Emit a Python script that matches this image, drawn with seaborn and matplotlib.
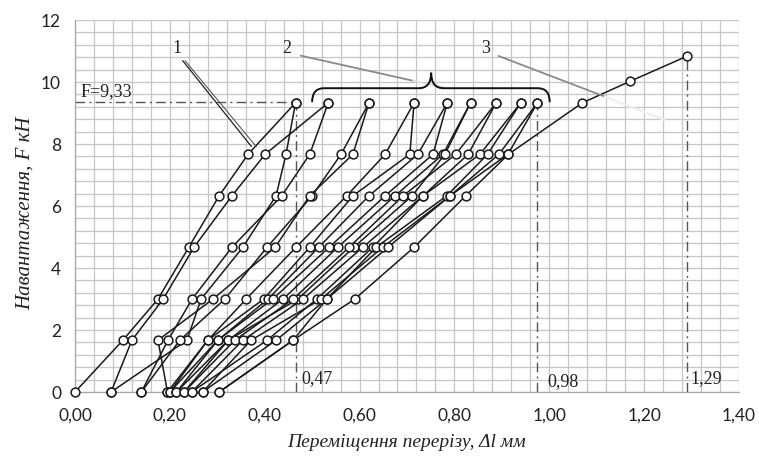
import matplotlib
matplotlib.use('Agg')
import matplotlib.pyplot as plt
from matplotlib.path import Path
from matplotlib.patches import PathPatch
from matplotlib.ticker import MultipleLocator, FuncFormatter
import pandas as pd
import seaborn as sns

# load levels, kN
load_up = [0, 1.67, 3.0, 4.67, 6.33, 7.67, 9.33]
load_down = [9.33, 7.67, 6.33, 4.67, 3.0, 1.67, 0]
load_fail = [0, 1.67, 3.0, 4.67, 6.33, 7.67, 9.33, 10.02, 10.83]

# displacement on loading branches, mm (cycles 1..9)
loading_x = [
    [0.000, 0.101, 0.175, 0.240, 0.304, 0.365, 0.465],
    [0.076, 0.120, 0.186, 0.251, 0.331, 0.401, 0.534],
    [0.140, 0.221, 0.316, 0.405, 0.500, 0.561, 0.620],
    [0.195, 0.280, 0.361, 0.466, 0.573, 0.654, 0.715],
    [0.200, 0.301, 0.407, 0.514, 0.620, 0.723, 0.785],
    [0.214, 0.323, 0.439, 0.554, 0.675, 0.776, 0.834],
    [0.230, 0.337, 0.460, 0.578, 0.692, 0.803, 0.888],
    [0.246, 0.354, 0.481, 0.607, 0.734, 0.854, 0.940],
    [0.269, 0.371, 0.519, 0.649, 0.791, 0.894, 0.975],
]
# displacement on unloading branches, mm
unloading_x = [
    [0.465, 0.445, 0.424, 0.354, 0.266, 0.236, 0.076],
    [0.534, 0.495, 0.436, 0.331, 0.247, 0.196, 0.140],
    [0.620, 0.586, 0.495, 0.422, 0.291, 0.175, 0.195],
    [0.715, 0.706, 0.586, 0.495, 0.398, 0.280, 0.200],
    [0.785, 0.755, 0.654, 0.536, 0.417, 0.301, 0.214],
    [0.834, 0.780, 0.711, 0.588, 0.470, 0.323, 0.230],
    [0.888, 0.829, 0.734, 0.628, 0.510, 0.405, 0.246],
    [0.940, 0.870, 0.784, 0.635, 0.531, 0.424, 0.269],
    [0.975, 0.913, 0.791, 0.660, 0.531, 0.460, 0.304],
]
# last cycle up to failure
fail_x = [0.304, 0.460, 0.590, 0.715, 0.824, 0.914, 1.070, 1.170, 1.290]

x_ticks = [0.0, 0.2, 0.4, 0.6, 0.8, 1.0, 1.2, 1.4]
y_ticks = [0, 2, 4, 6, 8, 10, 12]

rows = []
b = 0
for i in range(len(loading_x)):
    for x, f in zip(loading_x[i], load_up):
        rows.append((b, x, f))
    b += 1
    for x, f in zip(unloading_x[i], load_down):
        rows.append((b, x, f))
    b += 1
for x, f in zip(fail_x, load_fail):
    rows.append((b, x, f))
df = pd.DataFrame(rows, columns=['branch', 'x', 'F'])

sns.set_style('white')
plt.rcParams['font.family'] = ['Lato', 'DejaVu Sans']
serif = ['Liberation Serif', 'DejaVu Serif']

fig = plt.figure(figsize=(7.59, 4.58), dpi=100)
ax = fig.add_axes([0.0988, 0.1441, 0.8748, 0.8122])

sns.lineplot(data=df, x='x', y='F', units='branch', estimator=None, sort=False,
             color='#1a1a1a', lw=1.1, ax=ax, zorder=3)
sns.scatterplot(data=df, x='x', y='F', s=40, color='white', edgecolor='#1a1a1a',
                linewidth=1.1, ax=ax, zorder=4, clip_on=False)

ax.set_xlim(0, 1.4)
ax.set_ylim(0, 12)
ax.xaxis.set_major_locator(MultipleLocator(0.2))
ax.xaxis.set_minor_locator(MultipleLocator(0.04))
ax.yaxis.set_major_locator(MultipleLocator(2))
ax.yaxis.set_minor_locator(MultipleLocator(0.4))
ax.set_xticks(x_ticks)
ax.set_yticks(y_ticks)
ax.xaxis.set_major_formatter(FuncFormatter(lambda v, p: f'{v:.2f}'.replace('.', ',')))
ax.grid(True, which='both', color='#c6c6c6', lw=0.9)
ax.set_axisbelow(True)
for s in ['top', 'right']:
    ax.spines[s].set_visible(False)
for s in ['left', 'bottom']:
    ax.spines[s].set_color('#a6a6a6')
    ax.spines[s].set_linewidth(0.9)
ax.tick_params(axis='both', which='major', direction='out', length=5, color='#a6a6a6',
               labelsize=12.5, labelcolor='#222222')
ax.tick_params(axis='x', pad=6)
ax.tick_params(axis='y', pad=5)
ax.tick_params(which='minor', length=0)

ax.set_xlabel('Переміщення перерізу, Δl мм', family=serif, style='italic',
              fontsize=14, labelpad=8, color='#222222')
ax.set_ylabel('')
fig.text(0.033, 0.535, 'Навантаження, F кН', family=serif, style='italic',
         fontsize=15, rotation=90, ha='center', va='center', color='#222222')

dash = (0, (7, 3, 1.5, 3))
ax.plot([0, 0.465], [9.37, 9.37], color='#555555', lw=1.0, ls=dash, zorder=2)
ax.plot([0.465, 0.465], [0, 9.33], color='#555555', lw=1.0, ls=dash, zorder=2)
ax.plot([0.975, 0.975], [0, 9.33], color='#555555', lw=1.0, ls=dash, zorder=2)
ax.plot([1.29, 1.29], [0, 10.83], color='#555555', lw=1.0, ls=dash, zorder=2)

ax.text(0.012, 9.55, 'F=9,33', family=serif, fontsize=13, color='#222222')
ax.text(0.478, 0.3, '0,47', family=serif, fontsize=13, color='#222222')
ax.text(0.995, 0.2, '0,98', family=serif, fontsize=13, color='#222222')
ax.text(1.297, 0.3, '1,29', family=serif, fontsize=13, color='#222222')

ax.text(0.205, 10.95, '1', family=serif, fontsize=13, color='#222222')
ax.text(0.438, 10.95, '2', family=serif, fontsize=13, color='#222222')
ax.text(0.857, 10.95, '3', family=serif, fontsize=13, color='#222222')

ax.plot([0.227, 0.372], [10.69, 7.92], color='#222222', lw=0.9, zorder=5)
ax.plot([0.232, 0.382], [10.69, 7.92], color='#444444', lw=0.7, zorder=5)
ax.plot([0.476, 0.713], [10.85, 10.04], color='#8a8a8a', lw=1.3, zorder=5)
ax.plot([0.713, 0.78], [10.04, 9.82], color='#dddddd', lw=1.3, zorder=5)
ax.plot([0.893, 1.117], [10.84, 9.53], color='#8a8a8a', lw=1.3, zorder=5)
ax.plot([1.117, 1.244], [9.53, 8.77], color='#eeeeee', lw=1.5, zorder=5)

# curly brace over group 2
verts = [(0.500, 9.35), (0.500, 9.80), (0.525, 9.80),
         (0.725, 9.80),
         (0.751, 9.80), (0.751, 10.30),
         (0.751, 9.80), (0.777, 9.80),
         (0.976, 9.80),
         (1.001, 9.80), (1.001, 9.35)]
codes = [Path.MOVETO, Path.CURVE3, Path.CURVE3,
         Path.LINETO,
         Path.CURVE3, Path.CURVE3,
         Path.CURVE3, Path.CURVE3,
         Path.LINETO,
         Path.CURVE3, Path.CURVE3]
ax.add_patch(PathPatch(Path(verts, codes), fill=False, lw=1.4, color='#111111', zorder=5))

fig.savefig('out.png', dpi=100)
